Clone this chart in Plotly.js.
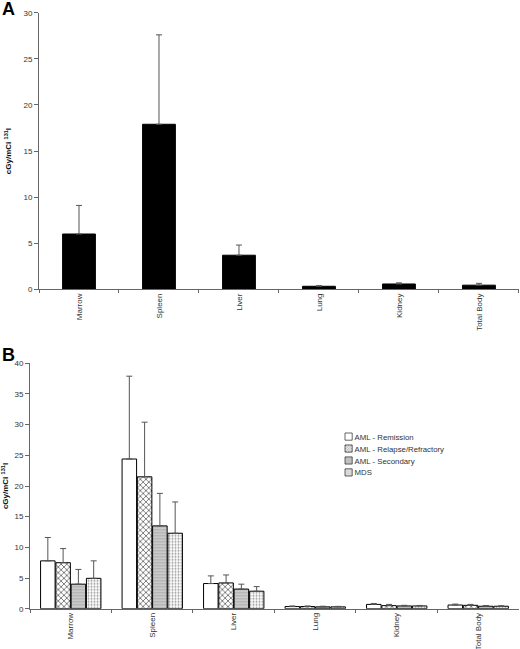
<!DOCTYPE html>
<html>
<head>
<meta charset="utf-8">
<script src="https://cdn.plot.ly/plotly-3.0.1.min.js"></script>
<style>
html,body{margin:0;padding:0;background:#fff;}
#chart{width:520px;height:649px;}
</style>
</head>
<body>
<div id="chart"></div>
<script>
// ---- data ----
const categories = ['Marrow', 'Spleen', 'Liver', 'Lung', 'Kidney', 'Total Body'];

// Panel A: all patients
const overallMean = [6.0, 17.9, 3.7, 0.33, 0.58, 0.45];
const overallErr  = [3.1, 9.7, 1.1, 0.07, 0.12, 0.2];

// Panel B: by disease group
const seriesNames = ['AML - Remission', 'AML - Relapse/Refractory', 'AML - Secondary', 'MDS'];
const remissionMean = [7.8, 24.4, 4.1, 0.35, 0.7, 0.6];
const remissionErr  = [3.8, 13.5, 1.25, 0.1, 0.15, 0.15];
const relapseMean   = [7.5, 21.5, 4.2, 0.35, 0.5, 0.55];
const relapseErr    = [2.3, 8.9, 1.3, 0.1, 0.2, 0.15];
const secondaryMean = [4.0, 13.5, 3.2, 0.3, 0.45, 0.4];
const secondaryErr  = [2.4, 5.3, 0.8, 0.1, 0.1, 0.12];
const mdsMean       = [4.95, 12.3, 2.85, 0.3, 0.45, 0.4];
const mdsErr        = [2.85, 5.1, 0.75, 0.08, 0.08, 0.08];

const yTitle = 'cGy/mCi <sup>131</sup>I';

// ---- styles ----
const FONT = 'Liberation Sans, Arial, sans-serif';
const errStyle = {color: '#555', thickness: 1, width: 3};
function upErr(arr) {
  return Object.assign({type: 'data', symmetric: false, array: arr, arrayminus: arr.map(() => 0)}, errStyle);
}
const outline = {color: '#000', width: 1};

const traces = [
  {
    type: 'bar', x: categories, y: overallMean, xaxis: 'x', yaxis: 'y',
    width: 0.41, showlegend: false,
    marker: {color: '#000', line: outline},
    error_y: upErr(overallErr)
  },
  {
    type: 'bar', name: seriesNames[0], x: categories, y: remissionMean, xaxis: 'x2', yaxis: 'y2',
    marker: {color: '#fff', line: outline},
    error_y: upErr(remissionErr)
  },
  {
    type: 'bar', name: seriesNames[1], x: categories, y: relapseMean, xaxis: 'x2', yaxis: 'y2',
    marker: {color: '#fff', line: outline,
      pattern: {shape: 'x', fgcolor: '#111', bgcolor: '#fff', size: 4, solidity: 0.25}},
    error_y: upErr(relapseErr)
  },
  {
    type: 'bar', name: seriesNames[2], x: categories, y: secondaryMean, xaxis: 'x2', yaxis: 'y2',
    marker: {color: '#c6c6c6', line: outline,
      pattern: {shape: '-', fgcolor: '#aaa', bgcolor: '#cacaca', size: 3, solidity: 0.3}},
    error_y: upErr(secondaryErr)
  },
  {
    type: 'bar', name: seriesNames[3], x: categories, y: mdsMean, xaxis: 'x2', yaxis: 'y2',
    marker: {color: '#fff', line: outline,
      pattern: {shape: '.', fgcolor: '#999', bgcolor: '#fff', size: 3, solidity: 0.35}},
    error_y: upErr(mdsErr)
  }
];

const tickFont = {family: FONT, size: 8, color: '#333'};
const titleFont = {family: FONT, size: 8, color: '#111', weight: 'bold'};

function xAxis(domain, anchor) {
  return {
    domain: domain, anchor: anchor, type: 'category',
    showline: true, linecolor: '#666', linewidth: 1,
    ticks: 'outside', ticklen: 3, tickcolor: '#666', tickson: 'boundaries',
    tickangle: -90, tickfont: tickFont, showgrid: false, zeroline: false,
    fixedrange: true
  };
}
function yAxis(domain, anchor, range, standoff) {
  return {
    domain: domain, anchor: anchor, range: range, dtick: 5,
    showline: true, linecolor: '#666', linewidth: 1,
    ticks: 'outside', ticklen: 4, tickcolor: '#666',
    tickfont: tickFont, showgrid: false, zeroline: false,
    title: {text: yTitle, font: titleFont, standoff: standoff},
    fixedrange: true
  };
}

// legend is drawn by Plotly, then compacted to the small Excel-style box of the original
const LEGEND_SCALE = 0.6;
const LEGEND_TARGET = {x: 345, y: 433};   // top-left of first legend swatch, in page pixels

const layout = {
  width: 520, height: 649,
  margin: {l: 0, r: 0, t: 0, b: 0, autoexpand: false},
  paper_bgcolor: '#fff', plot_bgcolor: '#fff',
  barmode: 'group', bargap: 0.25, bargroupgap: 0.05,
  font: {family: FONT, color: '#333'},
  xaxis: xAxis([0.075, 0.998], 'y'),
  yaxis: yAxis([0.5542, 0.9804], 'x', [0, 30], 10),
  xaxis2: xAxis([0.0577, 0.998], 'y2'),
  yaxis2: yAxis([0.0621, 0.4402], 'x2', [0, 40], 6),
  legend: {
    x: 0.1, y: 0.339, xanchor: 'left', yanchor: 'top',
    font: {family: FONT, size: 13, color: '#333'},
    bgcolor: 'rgba(0,0,0,0)', itemwidth: 30, traceorder: 'normal',
    itemclick: false, itemdoubleclick: false
  },
  annotations: [
    {text: '<b>A</b>', xref: 'paper', yref: 'paper', x: 0.0, y: 1.0, xanchor: 'left', yanchor: 'top',
     yshift: 3, showarrow: false, font: {family: FONT, size: 18, color: '#000'}},
    {text: '<b>B</b>', xref: 'paper', yref: 'paper', x: 0.0, y: 0.4653, xanchor: 'left', yanchor: 'top',
     yshift: 4, showarrow: false, font: {family: FONT, size: 18, color: '#000'}}
  ]
};

Plotly.newPlot('chart', traces, layout, {displayModeBar: false, staticPlot: true}).then(function (gd) {
  const leg = gd.querySelector('.legend');
  if (!leg) return;
  const tr = leg.getAttribute('transform') || '';
  const m = /translate\(\s*([-\d.]+)[ ,]+([-\d.]+)\s*\)/.exec(tr);
  let tx = m ? parseFloat(m[1]) : 0, ty = m ? parseFloat(m[2]) : 0;
  leg.querySelectorAll('text.legendtext').forEach(function (t) { t.setAttribute('x', 30); });
  leg.setAttribute('transform', 'translate(' + tx + ',' + ty + ') scale(' + LEGEND_SCALE + ')');
  const sym = leg.querySelector('.legendpoints path');
  if (sym) {
    const r = sym.getBoundingClientRect();
    const host = gd.getBoundingClientRect();
    tx += LEGEND_TARGET.x - (r.left - host.left);
    ty += LEGEND_TARGET.y - (r.top - host.top);
    leg.setAttribute('transform', 'translate(' + tx + ',' + ty + ') scale(' + LEGEND_SCALE + ')');
  }
});
</script>
</body>
</html>
